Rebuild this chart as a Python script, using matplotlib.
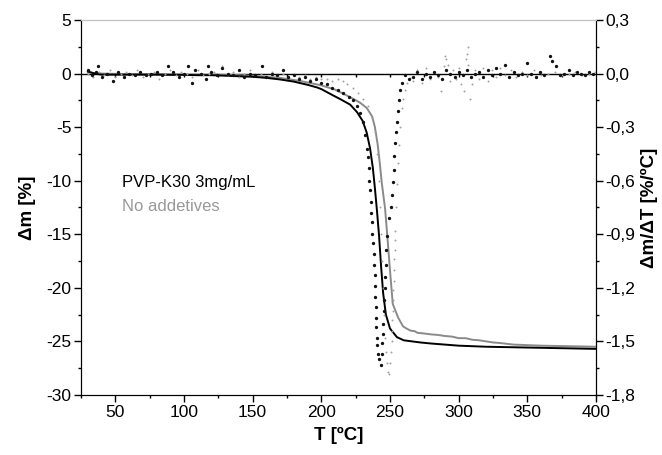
import matplotlib
matplotlib.use("Agg")
import matplotlib.pyplot as plt
from matplotlib.ticker import MultipleLocator, FuncFormatter

plt.rcParams['font.family'] = ['Liberation Sans', 'DejaVu Sans']
plt.rcParams['axes.unicode_minus'] = False

# TG curves (mass change, %)
tg_black_T = [30, 35, 40, 50, 60, 70, 80, 90, 100, 110, 120, 130, 140, 150, 160,
              170, 180, 185, 190, 197, 200, 208, 214, 221, 226, 230, 233, 235.5,
              237.5, 239, 240.5, 242, 243.5, 245, 247, 250, 255, 260, 272, 280,
              290, 300, 320, 340, 360, 380, 400]
tg_black_m = [0.2, 0.0, -0.1, -0.1, -0.1, -0.1, -0.1, -0.12, -0.12, -0.15, -0.15,
              -0.2, -0.25, -0.3, -0.4, -0.55, -0.75, -0.9, -1.05, -1.3, -1.45,
              -2.0, -2.4, -2.9, -3.6, -4.4, -5.5, -7.0, -8.8, -10.7, -12.8, -15.1,
              -18.0, -20.5, -22.5, -23.8, -24.6, -24.9, -25.1, -25.2, -25.3,
              -25.4, -25.5, -25.55, -25.6, -25.65, -25.7]

tg_gray_T = [30, 40, 60, 80, 100, 120, 140, 150, 170, 185, 200, 210, 221, 228,
             233, 237, 239, 241, 242.5, 244, 246.4, 248, 250, 252, 256, 259.5,
             262, 265, 268, 270, 274, 280, 285, 290, 295, 300, 305, 310, 315,
             320, 325, 330, 340, 360, 380, 400]
tg_gray_m = [0.1, 0.0, -0.05, -0.05, -0.08, -0.1, -0.15, -0.2, -0.4, -0.7, -1.1,
             -1.5, -2.2, -2.7, -3.2, -4.0, -5.0, -6.6, -8.3, -10.2, -12.6, -15.1,
             -18.4, -21.5, -22.8, -23.6, -23.8, -24.0, -24.05, -24.2, -24.25,
             -24.35, -24.4, -24.5, -24.55, -24.7, -24.7, -24.85, -24.9, -25.0,
             -25.1, -25.15, -25.3, -25.4, -25.45, -25.5]

# DTG curves (%/oC), right axis
dtg_black_T = [
    30, 33, 36, 37, 40, 44, 48, 52, 56, 60,
    64, 68, 72, 76, 80, 84, 88, 92, 96, 100,
    103, 106, 108, 112, 116, 117.5, 120, 124, 128, 132,
    136, 140, 144, 148, 152, 157, 160, 164, 168, 172,
    176, 180, 184, 188, 192, 196, 200, 204, 208, 212,
    216, 220, 223, 226, 228.5,
    230.3, 231.8, 233.3, 234.0, 234.7, 235.0, 235.4, 236.2, 236.5, 236.9,
    237.0, 237.6, 238.3, 238.5, 239.1, 239.2, 239.3, 239.8, 239.9, 240.0,
    240.5, 240.7, 241.3, 242.0, 243.4,
    244.2, 244.4, 244.9, 245.1, 245.6, 245.8, 246.4, 246.6, 247.1, 247.4,
    247.8, 249.3, 250.7, 251.5, 252.2, 252.9, 253.2, 253.6, 254.4, 255.1,
    255.8, 256.6, 257.3, 258.7, 260.9,
    264, 267, 270, 273, 276, 279, 282, 285, 288, 291,
    294, 297, 300, 303, 306, 309, 312, 315, 318, 321,
    324, 327, 330, 333.7, 337, 340, 343, 346, 349.8, 353,
    356, 359, 362, 366.5, 368, 371, 374, 377, 380, 383,
    386, 389, 392, 395, 398]
dtg_black_r = [
    0.02, -0.01, 0.01, 0.04, -0.02, 0.0, -0.04, 0.01, -0.02, 0.0,
    -0.01, 0.01, -0.01, 0.0, 0.01, -0.01, 0.04, 0.01, -0.02, 0.0,
    0.04, -0.05, 0.02, 0.0, -0.03, 0.04, 0.01, -0.01, 0.03, 0.0,
    -0.01, 0.02, -0.02, 0.0, -0.01, 0.04, -0.02, 0.0, -0.01, 0.02,
    -0.02, -0.01, -0.03, -0.02, -0.04, -0.03, -0.05, -0.06, -0.08, -0.09,
    -0.11, -0.13, -0.15, -0.18, -0.22,
    -0.27, -0.345, -0.42, -0.47, -0.53, -0.60, -0.65, -0.72, -0.78, -0.83,
    -0.90, -0.95, -1.01, -1.07, -1.13, -1.19, -1.25, -1.31, -1.37, -1.42,
    -1.48, -1.52, -1.57, -1.60, -1.63,
    -1.57, -1.51, -1.46, -1.40, -1.33, -1.27, -1.20, -1.14, -1.07, -0.99,
    -0.91, -0.81, -0.75, -0.68, -0.61, -0.54, -0.46, -0.39, -0.33, -0.27,
    -0.21, -0.15, -0.09, -0.05, -0.01,
    -0.03, -0.02, 0.01, -0.03, 0.0, -0.02, 0.01, -0.01, -0.03, 0.02,
    0.0, -0.02, 0.01, -0.01, 0.02, -0.02, 0.0, 0.01, -0.02, 0.02,
    -0.01, 0.03, 0.0, 0.05, -0.02, 0.01, -0.01, 0.0, 0.06, 0.0,
    -0.02, 0.01, -0.01, 0.10, 0.07, 0.04, -0.01, 0.0, 0.02, -0.01,
    0.01, 0.0, -0.01, 0.01, 0.0]

dtg_gray_T = [
    30, 34, 38, 42, 46, 50, 54, 58, 62, 66,
    70, 74, 78, 82, 86, 90, 94, 98, 102, 106,
    110, 114, 118, 122, 128, 132, 136, 140, 144, 148,
    152, 156, 160, 164, 168, 172, 176, 180, 184, 188,
    192, 196, 200, 204, 208, 212, 215.8, 219, 223, 227,
    230, 234, 236.9, 239.1, 240.5, 242, 242.7, 243.4, 244.2, 244.9,
    245.6, 246.4, 247.1, 247.8, 248.6, 249.3, 250.0, 250.7, 251.1, 251.5,
    251.7, 251.9, 252.2, 252.4, 252.6, 252.9, 253.1, 253.3, 253.6, 253.8,
    254.4, 255.1, 255.8, 256.6, 257.3, 258.7, 259.5, 260.9, 262.4, 264.6,
    267, 270, 273, 276, 279, 282, 285, 287, 289, 290,
    291, 292, 294, 296, 298, 300, 302, 304, 305, 306,
    306.5, 307, 308, 310, 312, 315, 318, 321, 324, 327,
    330, 334, 338, 342, 346, 350, 355, 360, 365, 370,
    375, 380, 385, 390, 395, 399]
dtg_gray_r = [
    0.0, -0.02, 0.01, -0.01, 0.02, -0.02, 0.0, 0.01, -0.01, 0.02,
    -0.02, 0.0, 0.01, -0.03, 0.0, 0.02, -0.01, 0.01, 0.0, -0.02,
    0.02, -0.01, 0.0, 0.01, 0.04, -0.01, 0.01, -0.02, 0.0, 0.02,
    -0.01, 0.0, -0.02, 0.01, -0.01, 0.0, -0.02, -0.01, -0.02, -0.01,
    -0.03, -0.02, -0.03, -0.03, -0.04, -0.03, -0.04, -0.06, -0.08, -0.11,
    -0.14, -0.18, -0.25, -0.33, -0.45, -0.60, -0.75, -0.90, -1.05, -1.20,
    -1.35, -1.48, -1.56, -1.62, -1.67, -1.68, -1.62, -1.56, -1.50, -1.44,
    -1.38, -1.33, -1.27, -1.21, -1.16, -1.10, -1.04, -0.99, -0.93, -0.88,
    -0.75, -0.62, -0.50, -0.40, -0.30, -0.19, -0.14, -0.09, -0.05, -0.025,
    -0.04, 0.02, -0.05, 0.03, -0.03, 0.01, -0.02, -0.10, 0.04, 0.10,
    0.08, 0.05, -0.04, 0.02, -0.03, 0.03, -0.06, -0.10, 0.08, 0.11,
    0.15, 0.05, -0.14, -0.06, 0.02, -0.03, 0.03, -0.04, 0.02, -0.02,
    0.03, -0.01, 0.02, -0.02, 0.01, -0.01, 0.02, -0.01, 0.0, 0.01,
    -0.01, 0.0, 0.01, -0.01, 0.0, 0.01]

legend_labels = ["PVP-K30 3mg/mL", "No addetives"]


def comma(v, nd):
    s = f"{round(v, nd):.{nd}f}".replace(".", ",")
    if s.startswith("-") and float(s[1:].replace(",", ".")) == 0:
        s = s[1:]
    return s


fig = plt.figure(figsize=(6.62, 4.55), dpi=100)
ax = fig.add_axes([0.1224, 0.132, 0.7779, 0.824])
axr = ax.twinx()

ax.plot(tg_gray_T, tg_gray_m, color="#8a8a8a", lw=1.4, zorder=3)
ax.plot(tg_black_T, tg_black_m, color="black", lw=1.4, zorder=4)
ax.axhline(0, color="black", lw=1.0, zorder=2)
ax.vlines(range(50, 400, 25), -0.35, 0, color="black", lw=1.0, zorder=2)

axr.plot(dtg_gray_T, dtg_gray_r, ls="none", marker="o", ms=1.4,
         color="#a0a0a0", mec="none")
axr.plot(dtg_black_T, dtg_black_r, ls="none", marker="o", ms=2.4,
         color="#111111", mec="none")

ax.set_xlim(25, 400)
ax.set_ylim(-30, 5)
axr.set_ylim(-1.8, 0.3)

ax.xaxis.set_major_locator(MultipleLocator(50))
ax.xaxis.set_minor_locator(MultipleLocator(25))
ax.yaxis.set_major_locator(MultipleLocator(5))
ax.yaxis.set_minor_locator(MultipleLocator(2.5))
axr.yaxis.set_major_locator(MultipleLocator(0.3))
axr.yaxis.set_minor_locator(MultipleLocator(0.15))
axr.yaxis.set_major_formatter(FuncFormatter(lambda v, p: comma(v, 1)))

for a in (ax, axr):
    a.tick_params(which="major", direction="out", length=5, width=1.0,
                  labelsize=12.5, pad=2)
    a.tick_params(which="minor", direction="out", length=2.5, width=1.0)
    a.spines["top"].set_color("#c0c0c0")
    a.spines["top"].set_linewidth(0.8)

ax.set_xlabel("T [ºC]", fontsize=13.5, fontweight="bold", labelpad=5)
ax.set_ylabel("Δm [%]", fontsize=13.5, fontweight="bold", labelpad=7)
axr.set_ylabel("Δm/ΔT [%/ºC]", fontsize=13.5, fontweight="bold", labelpad=4)

ax.text(0.0796, 0.567, legend_labels[0], transform=ax.transAxes,
        fontsize=12, color="black", va="center", ha="left")
ax.text(0.0796, 0.503, legend_labels[1], transform=ax.transAxes,
        fontsize=12, color="#999999", va="center", ha="left")

fig.savefig("out.png", dpi=100)
